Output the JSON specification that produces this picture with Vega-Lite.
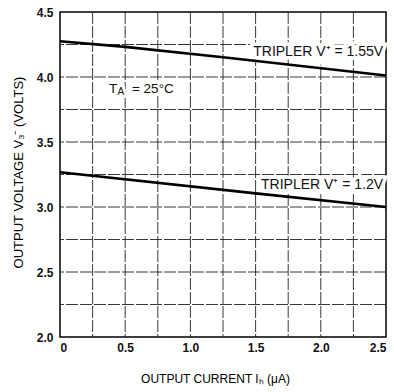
{
  "$schema": "https://vega.github.io/schema/vega-lite/v6.json",
  "width": 326,
  "height": 325,
  "autosize": "none",
  "padding": {"left": 60, "top": 12, "right": 8, "bottom": 55},
  "background": "white",
  "config": {
    "font": "Liberation Sans",
    "view": {"stroke": "black", "strokeWidth": 1.5},
    "axis": {
      "grid": false,
      "domain": false,
      "ticks": false,
      "labelFont": "Liberation Sans",
      "labelFontSize": 12,
      "labelFontWeight": "bold",
      "labelColor": "#111111",
      "titleFont": "Liberation Sans",
      "titleFontSize": 12,
      "titleFontWeight": "normal",
      "titleColor": "#000000"
    }
  },
  "datasets": {
    "curves": [
      {"current": 0, "voltage": 4.275, "series": "1.55V"},
      {"current": 0.5, "voltage": 4.232, "series": "1.55V"},
      {"current": 1.25, "voltage": 4.152, "series": "1.55V"},
      {"current": 2.5, "voltage": 4.012, "series": "1.55V"},
      {"current": 0, "voltage": 3.267, "series": "1.2V"},
      {"current": 1.5, "voltage": 3.105, "series": "1.2V"},
      {"current": 2.5, "voltage": 3.0, "series": "1.2V"}
    ],
    "vgrid": [
      {"current": 0.25}, {"current": 0.5}, {"current": 0.75}, {"current": 1.0},
      {"current": 1.25}, {"current": 1.5}, {"current": 1.75}, {"current": 2.0}, {"current": 2.25}
    ],
    "hgrid": [
      {"voltage": 2.25}, {"voltage": 2.5}, {"voltage": 2.75}, {"voltage": 3.0},
      {"voltage": 3.25}, {"voltage": 3.5}, {"voltage": 3.75}, {"voltage": 4.0}, {"voltage": 4.25}
    ],
    "labels": [
      {"current": 2.478, "voltage": 4.19, "text": "TRIPLER V⁺ = 1.55V"},
      {"current": 2.478, "voltage": 3.17, "text": "TRIPLER V⁺ = 1.2V"}
    ],
    "ta": [
      {"current": 0.376, "voltage": 3.908, "text": "T"},
      {"current": 0.552, "voltage": 3.908, "text": "= 25°C"}
    ],
    "tasub": [
      {"current": 0.44, "voltage": 3.882, "text": "A"}
    ]
  },
  "layer": [
    {
      "data": {"name": "vgrid"},
      "mark": {"type": "rule", "color": "#222222", "strokeWidth": 0.9, "strokeDash": [12, 2]},
      "encoding": {
        "x": {"field": "current", "type": "quantitative"}
      }
    },
    {
      "data": {"name": "hgrid"},
      "mark": {"type": "rule", "color": "#222222", "strokeWidth": 0.9, "strokeDash": [12, 2]},
      "encoding": {
        "y": {"field": "voltage", "type": "quantitative"}
      }
    },
    {
      "data": {"name": "labels"},
      "mark": {"type": "text", "align": "right", "baseline": "middle", "fontSize": 14, "font": "Liberation Sans", "color": "white", "stroke": "white", "strokeWidth": 7},
      "encoding": {
        "x": {"field": "current", "type": "quantitative"},
        "y": {"field": "voltage", "type": "quantitative"},
        "text": {"field": "text"}
      }
    },
    {
      "data": {"name": "ta"},
      "mark": {"type": "text", "align": "left", "baseline": "middle", "fontSize": 13.5, "font": "Liberation Sans", "color": "white", "stroke": "white", "strokeWidth": 7},
      "encoding": {
        "x": {"field": "current", "type": "quantitative"},
        "y": {"field": "voltage", "type": "quantitative"},
        "text": {"field": "text"}
      }
    },
    {
      "data": {"name": "tasub"},
      "mark": {"type": "text", "align": "left", "baseline": "middle", "fontSize": 10, "font": "Liberation Sans", "color": "white", "stroke": "white", "strokeWidth": 6},
      "encoding": {
        "x": {"field": "current", "type": "quantitative"},
        "y": {"field": "voltage", "type": "quantitative"},
        "text": {"field": "text"}
      }
    },
    {
      "data": {"name": "curves"},
      "mark": {"type": "line", "color": "black", "strokeWidth": 2.6},
      "encoding": {
        "x": {
          "field": "current", "type": "quantitative",
          "scale": {"domain": [0, 2.5], "nice": false},
          "axis": {
            "values": [0, 0.5, 1, 1.5, 2, 2.5],
            "labelExpr": "datum.value == 0 ? '0' : format(datum.value, '.1f')",
            "labelPadding": 5,
            "title": "OUTPUT CURRENT Iₕ (μA)",
            "titlePadding": 20,
            "titleX": 155
          }
        },
        "y": {
          "field": "voltage", "type": "quantitative",
          "scale": {"domain": [2.0, 4.5], "nice": false, "zero": false},
          "axis": {
            "values": [2, 2.5, 3, 3.5, 4, 4.5],
            "format": ".1f",
            "labelPadding": 7,
            "title": "OUTPUT VOLTAGE V₃⁻ (VOLTS)",
            "titleFontSize": 13,
            "titlePadding": 11,
            "titleY": 160
          }
        },
        "detail": {"field": "series"}
      }
    },
    {
      "data": {"name": "labels"},
      "mark": {"type": "text", "align": "right", "baseline": "middle", "fontSize": 14, "font": "Liberation Sans", "color": "#111111"},
      "encoding": {
        "x": {"field": "current", "type": "quantitative"},
        "y": {"field": "voltage", "type": "quantitative"},
        "text": {"field": "text"}
      }
    },
    {
      "data": {"name": "ta"},
      "mark": {"type": "text", "align": "left", "baseline": "middle", "fontSize": 13.5, "font": "Liberation Sans", "color": "#111111"},
      "encoding": {
        "x": {"field": "current", "type": "quantitative"},
        "y": {"field": "voltage", "type": "quantitative"},
        "text": {"field": "text"}
      }
    },
    {
      "data": {"name": "tasub"},
      "mark": {"type": "text", "align": "left", "baseline": "middle", "fontSize": 10, "font": "Liberation Sans", "color": "#111111"},
      "encoding": {
        "x": {"field": "current", "type": "quantitative"},
        "y": {"field": "voltage", "type": "quantitative"},
        "text": {"field": "text"}
      }
    }
  ]
}
